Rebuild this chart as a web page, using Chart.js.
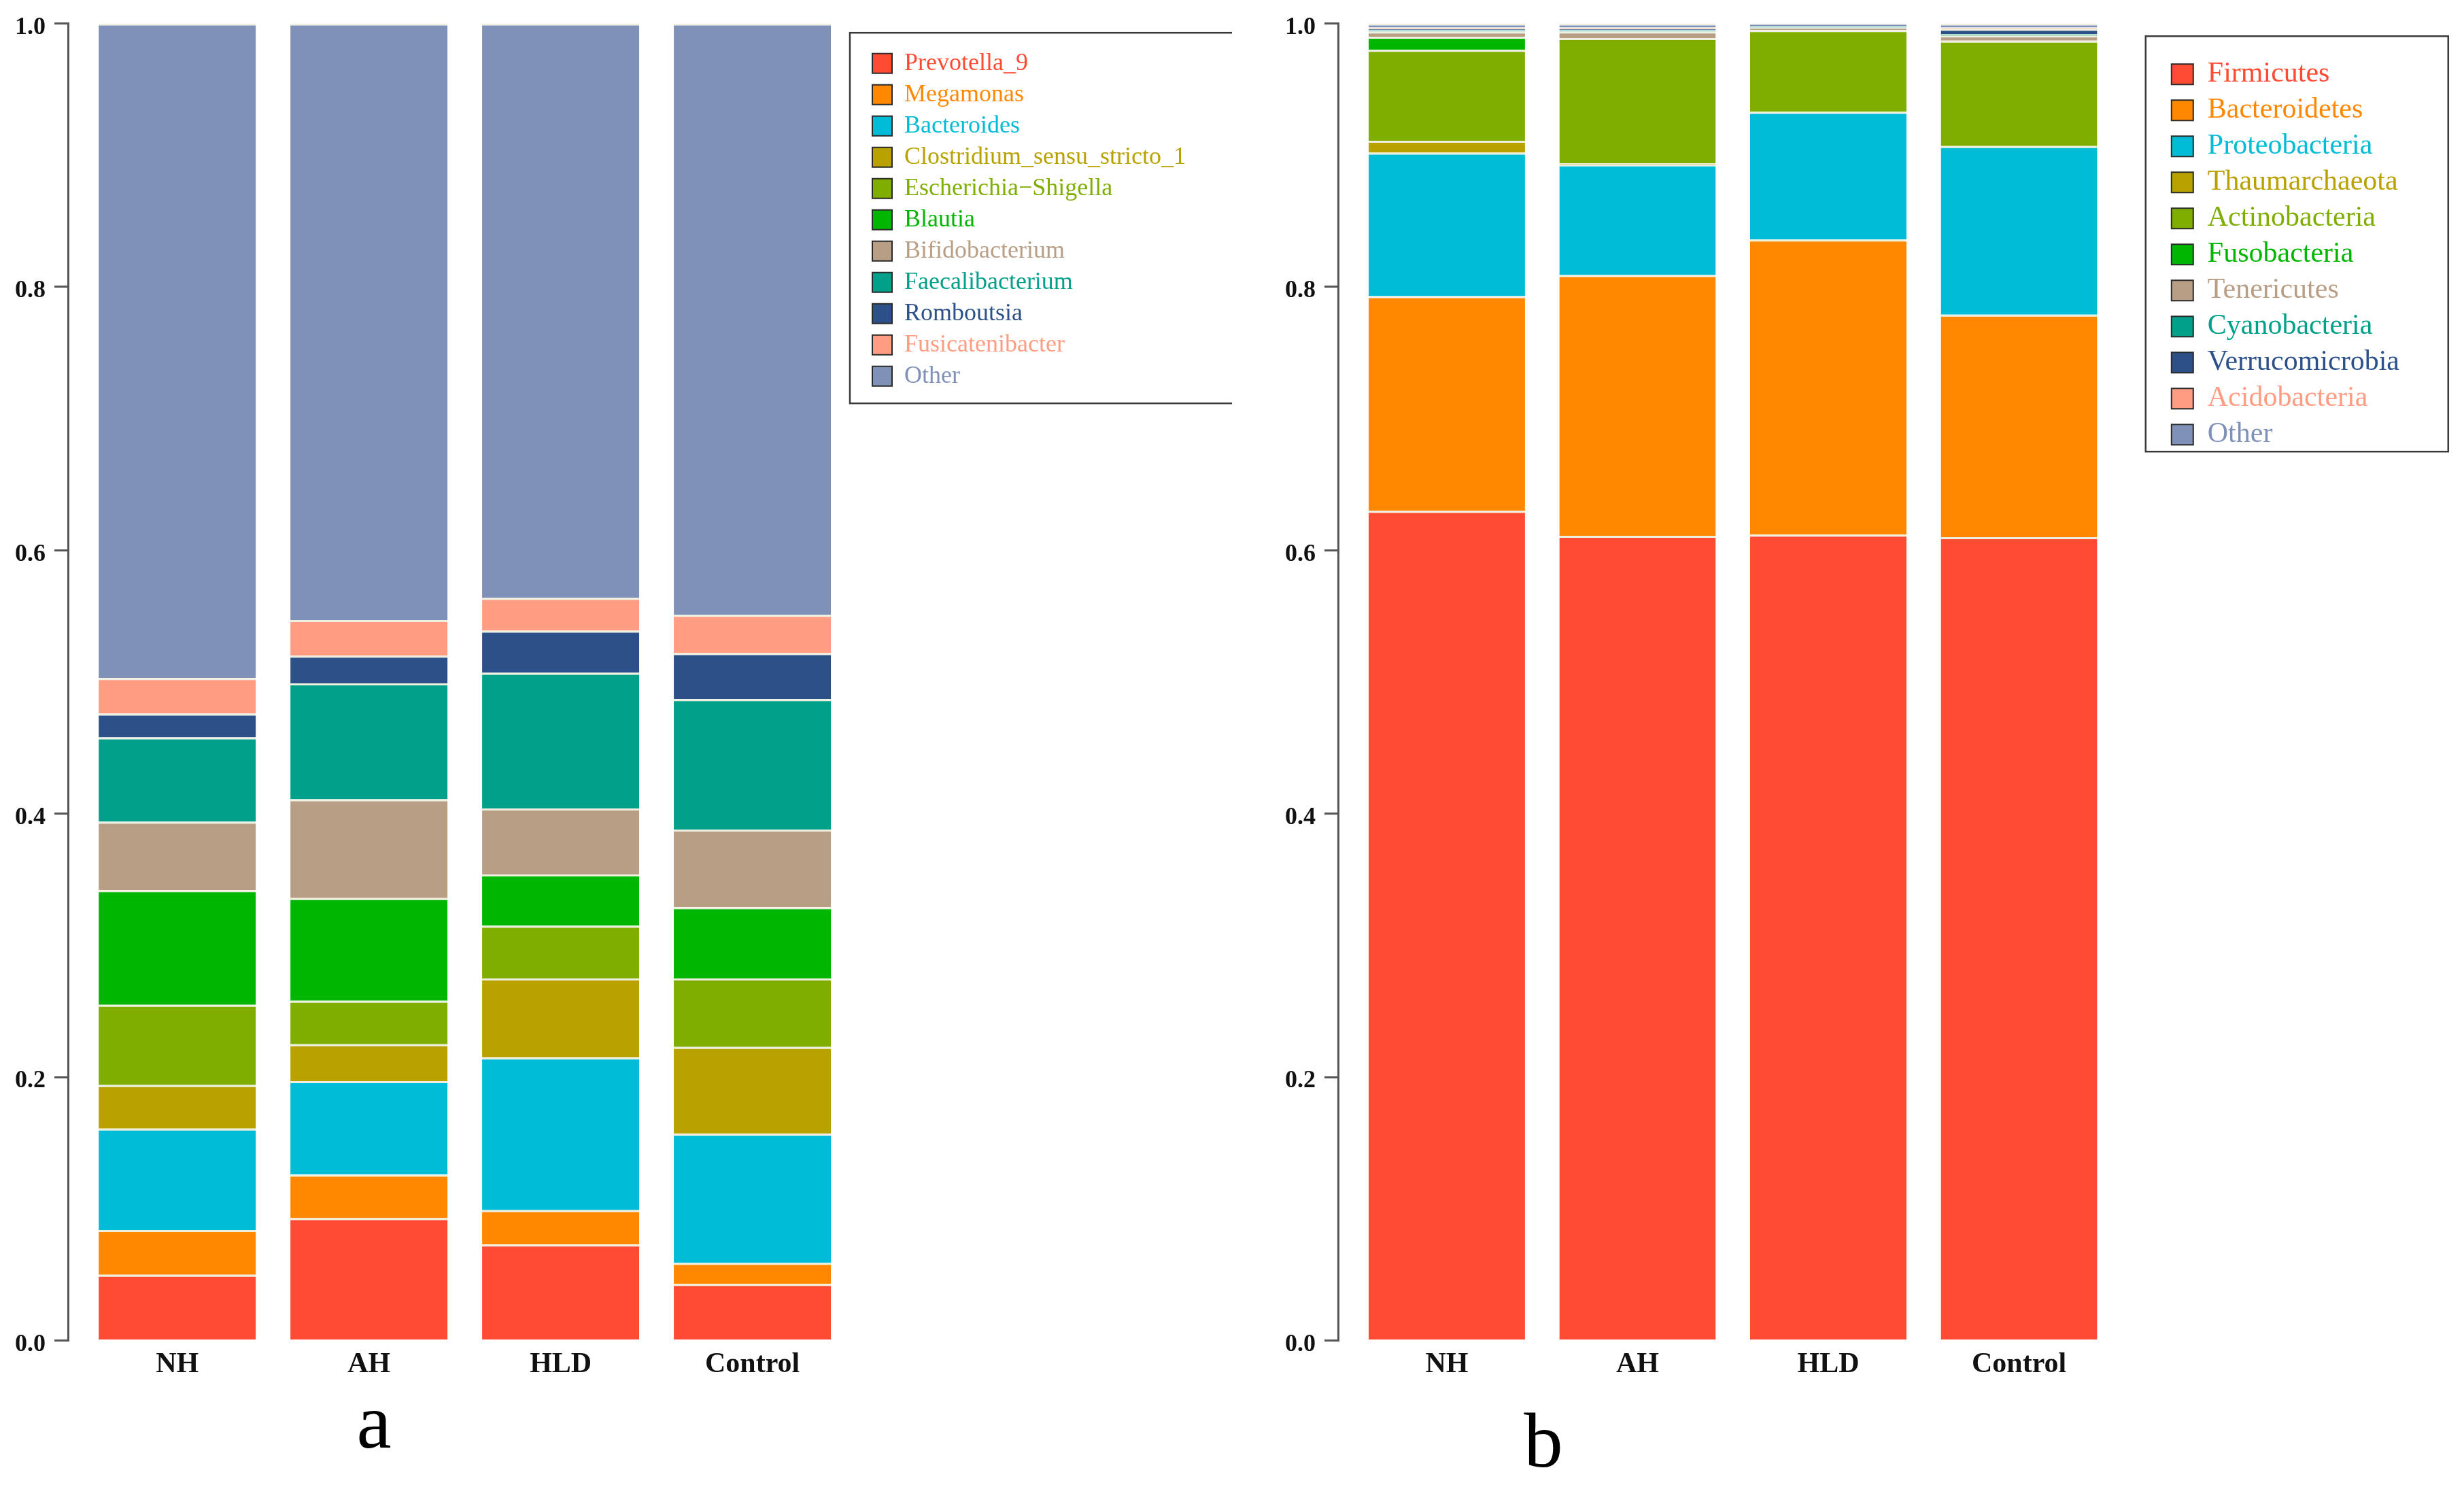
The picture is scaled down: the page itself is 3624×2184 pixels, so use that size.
<!DOCTYPE html>
<html>
<head>
<meta charset="utf-8">
<script src="https://cdn.jsdelivr.net/npm/chart.js@4.4.1/dist/chart.umd.min.js"></script>
<style>
  body { margin: 0; background: #fff; }
  #page { position: relative; width: 3624px; height: 2184px; overflow: hidden; background: #fff; }
  canvas { position: absolute; top: 0; }
  #chartA { left: 0; width: 1812px; height: 2184px; }
  #chartB { left: 1820px; width: 1804px; height: 2184px; }
  .panel {
    position: absolute;
    font-family: 'Liberation Serif', 'Times New Roman', serif;
    font-size: 115px;
    line-height: 1;
    transform: translate(-50%, -50%);
  }
</style>
</head>
<body>
<div id="page">
  <canvas id="chartA" width="1812" height="2184"></canvas>
  <canvas id="chartB" width="1804" height="2184"></canvas>
  <div class="panel" style="left:550px;top:2090px">a</div>
  <div class="panel" style="left:2270px;top:2118px">b</div>
</div>
<script>
const groups = ["NH", "AH", "HLD", "Control"];
const yTickLabels = ["0.0", "0.2", "0.4", "0.6", "0.8", "1.0"];

// panel a: genus level, one array per sample, same order as genusNames
const genusNames = [
  "Prevotella_9", "Megamonas", "Bacteroides", "Clostridium_sensu_stricto_1",
  "Escherichia\u2212Shigella", "Blautia", "Bifidobacterium", "Faecalibacterium",
  "Romboutsia", "Fusicatenibacter", "Other"
];
const genusNH      = [0.050, 0.034, 0.077, 0.033, 0.061, 0.087, 0.052, 0.064, 0.018, 0.027, 0.497];
const genusAH      = [0.093, 0.033, 0.071, 0.028, 0.033, 0.078, 0.075, 0.088, 0.021, 0.027, 0.453];
const genusHLD     = [0.073, 0.026, 0.116, 0.060, 0.040, 0.039, 0.050, 0.103, 0.032, 0.025, 0.436];
const genusControl = [0.043, 0.016, 0.098, 0.066, 0.052, 0.054, 0.059, 0.099, 0.035, 0.029, 0.449];

// panel b: phylum level
const phylumNames = [
  "Firmicutes", "Bacteroidetes", "Proteobacteria", "Thaumarchaeota",
  "Actinobacteria", "Fusobacteria", "Tenericutes", "Cyanobacteria",
  "Verrucomicrobia", "Acidobacteria", "Other"
];
const phylumNH      = [0.630, 0.163, 0.109, 0.009, 0.069, 0.010, 0.004, 0.001, 0.001, 0.001, 0.003];
const phylumAH      = [0.611, 0.198, 0.084, 0.001, 0.095, 0.000, 0.005, 0.001, 0.001, 0.001, 0.003];
const phylumHLD     = [0.612, 0.224, 0.097, 0.000, 0.062, 0.000, 0.002, 0.001, 0.000, 0.000, 0.002];
const phylumControl = [0.610, 0.169, 0.128, 0.000, 0.080, 0.000, 0.004, 0.001, 0.004, 0.001, 0.003];

const taxonColors = [
  "#ff4b33", "#ff8800", "#00bcd6", "#b9a200", "#7fae00", "#00b600",
  "#b99e86", "#00a08a", "#2c5189", "#ff9c82", "#7f91b7"
];

const serif = "'Liberation Serif', 'Times New Roman', serif";

// draws the box round the legend
const legendFrame = {
  id: "legendFrame",
  afterDraw(chart, args, opts) {
    const boxes = chart.legend.legendHitBoxes;
    if (!boxes || !boxes.length) return;
    const first = boxes[0];
    const last = boxes[boxes.length - 1];
    const left = first.left - opts.left;
    const top = first.top - opts.top;
    const bottom = last.top + last.height + opts.bottom;
    const right = opts.width ? left + opts.width : chart.width + 10;
    const ctx = chart.ctx;
    ctx.save();
    ctx.strokeStyle = "#3a3a3a";
    ctx.lineWidth = 2.5;
    ctx.strokeRect(left, top, right - left, bottom - top);
    ctx.restore();
  }
};

function buildDatasets(names, columns) {
  return names.map((name, i) => ({
    label: name,
    data: columns.map(col => col[i]),
    backgroundColor: taxonColors[i],
    borderColor: "rgba(238,238,222,0.95)",
    borderWidth: { top: 3, right: 0, bottom: 0, left: 0 },
    categoryPercentage: 1,
    barPercentage: 0.82
  }));
}

function makeChart(id, names, columns, cfg) {
  return new Chart(document.getElementById(id), {
    type: "bar",
    data: { labels: groups, datasets: buildDatasets(names, columns) },
    plugins: [legendFrame],
    options: {
      responsive: false,
      devicePixelRatio: 1,
      animation: false,
      layout: { padding: cfg.padding },
      scales: {
        x: {
          stacked: true,
          grid: { display: false, drawTicks: false },
          border: { display: false },
          ticks: {
            color: "#111",
            padding: 10,
            font: { family: serif, size: 42, weight: "bold" }
          },
          // first bar sits one gap away from the y axis
          afterBuildTicks(scale) {
            scale._startValue = cfg.start;
            scale._valueRange = cfg.end - cfg.start;
          }
        },
        y: {
          stacked: true,
          min: 0,
          max: 1,
          ticks: {
            stepSize: 0.2,
            color: "#111",
            padding: 13,
            labelOffset: 6,
            font: { family: serif, size: 36, weight: "bold" },
            callback: (v, i) => yTickLabels[i]
          },
          grid: { drawOnChartArea: false, drawTicks: true, tickLength: 20, color: "#555", lineWidth: 3 },
          border: { display: true, color: "#555", width: 3 }
        }
      },
      plugins: {
        tooltip: { enabled: false },
        legend: {
          position: "right",
          align: "start",
          maxWidth: 700,
          title: { display: true, text: "", font: { size: 1 }, padding: { top: cfg.titlePad, bottom: 0 } },
          labels: {
            boxWidth: cfg.boxW,
            boxHeight: cfg.boxH,
            padding: cfg.legendPad,
            font: { family: serif, size: cfg.legendFont },
            generateLabels(chart) {
              const items = Chart.defaults.plugins.legend.labels.generateLabels(chart);
              items.forEach(it => {
                it.fontColor = chart.data.datasets[it.datasetIndex].backgroundColor;
                it.strokeStyle = "#2a2a2a";
                it.lineWidth = 2;
              });
              return items;
            }
          }
        },
        legendFrame: cfg.frame
      }
    }
  });
}

makeChart("chartA", genusNames, [genusNH, genusAH, genusHLD, genusControl], {
  start: -0.57, end: 3.59,
  padding: { top: 18, left: 9, right: 58, bottom: 142 },
  legendFont: 36, boxW: 29, boxH: 29, legendPad: 10, titlePad: 46,
  frame: { left: 33, top: 27, bottom: 22 }
});

makeChart("chartB", phylumNames, [phylumNH, phylumAH, phylumHLD, phylumControl], {
  start: -0.57, end: 3.76,
  padding: { top: 30, left: 57, right: 85, bottom: 142 },
  legendFont: 42, boxW: 32, boxH: 30, legendPad: 11, titlePad: 46,
  frame: { left: 38, top: 35, bottom: 4, width: 445 }
});
</script>
</body>
</html>
